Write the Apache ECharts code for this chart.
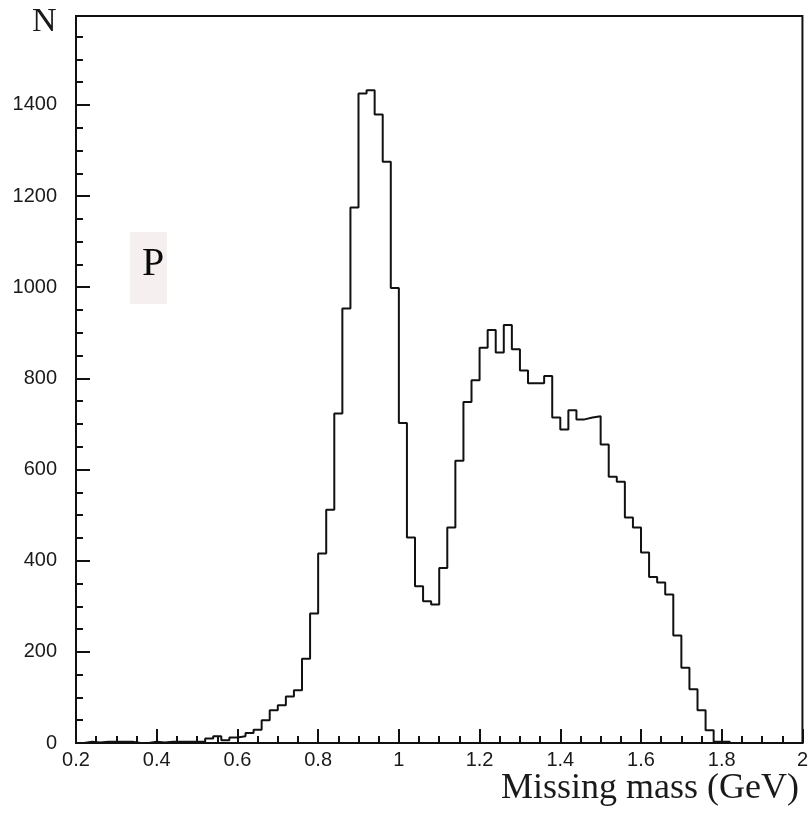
<!DOCTYPE html>
<html>
<head>
<meta charset="utf-8">
<style>
  html, body { margin: 0; padding: 0; background: #fff; }
  #chart { width: 811px; height: 814px; }
</style>
<script src="https://cdn.jsdelivr.net/npm/echarts@6/dist/echarts.min.js"></script>
</head>
<body>
<div id="chart"></div>
<script>
// Histogram bins: lower edge of first bin and bin width (GeV)
var binStart = 0.2;
var binWidth = 0.02;
// Counts per bin, from 0.20 up to 1.82 GeV
var counts = [
  0, 3, 1, 3, 3, 3, 3, 0, 0, 3,
  1, 3, 3, 3, 3, 3, 10, 15, 6, 12,
  15, 22, 29, 50, 72, 83, 102, 116, 185, 284,
  416, 512, 723, 953, 1175, 1425, 1432, 1379, 1275, 998,
  702, 451, 344, 311, 304, 384, 473, 619, 748, 796,
  867, 906, 857, 917, 864, 817, 789, 789, 805, 714,
  688, 730, 710, 714, 717, 655, 584, 573, 495, 473,
  418, 364, 352, 326, 236, 165, 118, 72, 28, 3,
  3
];
var xTitle = 'Missing mass (GeV)';
var yTitle = 'N';
var panelLabel = 'P';

var data = counts.map(function (c, i) {
  return [+(binStart + i * binWidth).toFixed(4), c];
});
data.push([+(binStart + counts.length * binWidth).toFixed(4), 0]);

var chart = echarts.init(document.getElementById('chart'), null, { renderer: 'canvas' });
var labelFont = 'Liberation Sans, Arial, sans-serif';
var serif = 'Liberation Serif, Times New Roman, serif';
function plain(v) { return String(+v.toFixed(4)); }

chart.setOption({
  animation: false,
  backgroundColor: '#ffffff',
  grid: {
    left: 76, top: 16, right: 8, bottom: 71,
    show: true, borderColor: '#111', borderWidth: 2, backgroundColor: 'transparent'
  },
  xAxis: {
    type: 'value', min: 0.2, max: 2, interval: 0.2,
    axisLine: { show: true, lineStyle: { color: '#111', width: 2 } },
    axisTick: { show: true, inside: true, length: 14, lineStyle: { color: '#111', width: 2 } },
    minorTick: { show: true, splitNumber: 4, length: 7, lineStyle: { color: '#111', width: 2 } },
    splitLine: { show: false },
    axisLabel: { fontFamily: labelFont, fontSize: 20, color: '#1a1a1a', margin: 7, formatter: plain }
  },
  yAxis: {
    type: 'value', min: 0, max: 1595, interval: 200,
    axisLine: { show: true, lineStyle: { color: '#111', width: 2 } },
    axisTick: { show: true, inside: true, length: 14, lineStyle: { color: '#111', width: 2 } },
    minorTick: { show: true, splitNumber: 4, length: 7, lineStyle: { color: '#111', width: 2 } },
    splitLine: { show: false },
    axisLabel: { fontFamily: labelFont, fontSize: 20, color: '#1a1a1a', margin: 19, showMaxLabel: false, formatter: plain }
  },
  graphic: [
    { type: 'rect', shape: { x: 130, y: 232, width: 37, height: 72 }, style: { fill: '#f6efef' }, z: 0 },
    { type: 'text', style: { x: 153, y: 264, text: panelLabel, font: '40px ' + serif, fill: '#0a0a0a', textAlign: 'center', textVerticalAlign: 'middle' }, z: 10 },
    { type: 'text', style: { x: 32, y: 22, text: yTitle, font: '34px ' + serif, fill: '#1a1a1a', textAlign: 'left', textVerticalAlign: 'middle' }, z: 10 },
    { type: 'text', style: { x: 799, y: 789, text: xTitle, font: '36px ' + serif, fill: '#1a1a1a', textAlign: 'right', textVerticalAlign: 'middle' }, z: 10 }
  ],
  series: [{
    type: 'line',
    step: 'end',
    symbol: 'none',
    data: data,
    lineStyle: { color: '#111', width: 2 },
    z: 5
  }]
});
</script>
</body>
</html>
